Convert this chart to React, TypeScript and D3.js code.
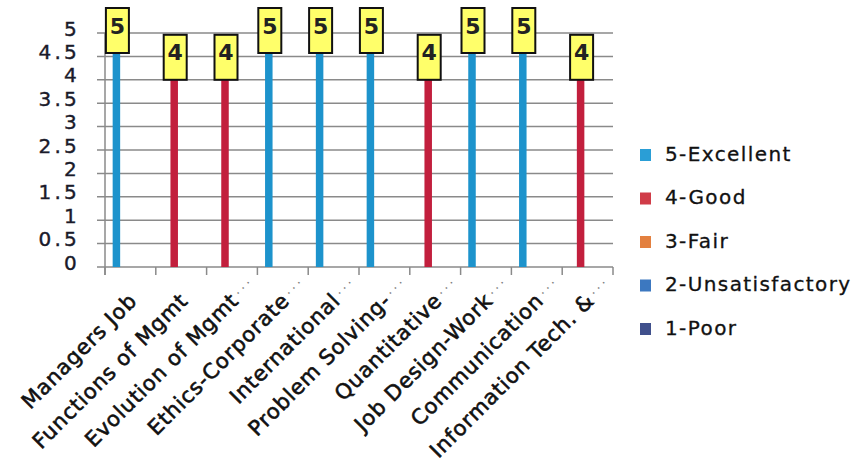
import React from "react";
import * as d3 from "d3";

const categories = [
  "Managers Job",
  "Functions of Mgmt",
  "Evolution of Mgmt",
  "Ethics-Corporate",
  "International",
  "Problem Solving-",
  "Quantitative",
  "Job Design-Work",
  "Communication",
  "Information Tech. &",
];
const truncated = [false, false, true, true, true, true, true, true, true, true];
const seriesNames = ["5-Excellent", "4-Good", "3-Fair", "2-Unsatisfactory", "1-Poor"];
const excellent = [5, 0, 0, 5, 5, 5, 0, 5, 5, 0];
const good = [0, 4, 4, 0, 0, 0, 4, 0, 0, 4];
const fair = [0, 0, 0, 0, 0, 0, 0, 0, 0, 0];
const unsatisfactory = [0, 0, 0, 0, 0, 0, 0, 0, 0, 0];
const poor = [0, 0, 0, 0, 0, 0, 0, 0, 0, 0];
const yTicks = [0, 0.5, 1, 1.5, 2, 2.5, 3, 3.5, 4, 4.5, 5];
const seriesColors = ["#1d93cc", "#c21f3d", "#e07a38", "#3a78c2", "#3b4d8c"];
const legendColors = ["#2a9ed6", "#d03c48", "#e3803f", "#3c78c0", "#40508c"];

const seriesValues = [excellent, good, fair, unsatisfactory, poor];

export default function App() {
  const W = 867, H = 469;
  const left = 105, right = 613, top = 33, bottom = 267;
  const x0 = d3.scaleBand<number>().domain(d3.range(categories.length)).range([left, right]).padding(0);
  const x1 = d3.scaleBand<number>().domain(d3.range(seriesNames.length)).range([0, x0.bandwidth()]).paddingInner(0).paddingOuter(1.13);
  const y = d3.scaleLinear().domain([0, 5]).range([bottom, top]);
  const bw = 7.5;
  const boxW = 23, boxH = 45;
  const font = "'DejaVu Sans', Verdana, sans-serif";

  const bars: any[] = [];
  const labels: any[] = [];
  seriesValues.forEach((vals, s) => {
    vals.forEach((v, i) => {
      if (v <= 0) return;
      const cx = (x0(i) as number) + (x1(s) as number) + x1.bandwidth() / 2;
      bars.push(
        <rect key={`b${s}-${i}`} x={cx - bw / 2} y={y(v)} width={bw} height={y(0) - y(v)} fill={seriesColors[s]} />
      );
      const by = Math.max(y(v) - boxH, 8);
      labels.push(
        <g key={`l${s}-${i}`}>
          <rect x={cx - boxW / 2 + 1} y={by} width={boxW} height={boxH} fill="#ffff6a" stroke="#111" strokeWidth={2} />
          <text x={cx + 1} y={by + boxH / 2 + 3} textAnchor="middle" fontFamily={font} fontWeight="bold" fontSize={22} fill="#222">{v}</text>
        </g>
      );
    });
  });

  return (
    <svg width={W} height={H} style={{ position: "absolute", left: 0, top: 0, background: "#fff" }}>
      {yTicks.map((t) => (
        <line key={`g${t}`} x1={left - 8} x2={right} y1={y(t)} y2={y(t)} stroke="#8a8a8a" strokeWidth={1.5} />
      ))}
      <line x1={left} x2={left} y1={top} y2={bottom + 8} stroke="#8a8a8a" strokeWidth={1.5} />
      {d3.range(categories.length + 1).map((i) => {
        const xx = i < categories.length ? (x0(i) as number) : right;
        return <line key={`t${i}`} x1={xx} x2={xx} y1={bottom} y2={bottom + 8} stroke="#8a8a8a" strokeWidth={1.5} />;
      })}
      {yTicks.map((t) => (
        <text key={`yl${t}`} x={80} y={y(t) - 3} textAnchor="end" dominantBaseline="middle" fontFamily={font} fontSize={20} letterSpacing={3.2} fill="#1a1a2a" stroke="#1a1a2a" strokeWidth={0.4}>{t}</text>
      ))}
      {bars}
      {labels}
      {categories.map((c, i) => {
        const cx = (x0(i) as number) + x0.bandwidth() / 2;
        return (
          <g key={`xl${i}`} transform={`translate(${cx + 8},${bottom + 35}) rotate(-45)`}>
            <text x={0} y={0} textAnchor="end" fontFamily={font} fontSize={21} letterSpacing={0.9} fill="#111" stroke="#111" strokeWidth={0.6}>{c}</text>
            {truncated[i] && (
              <text x={3} y={-7} textAnchor="start" fontFamily={font} fontSize={13} letterSpacing={3} fill="#777">...</text>
            )}
          </g>
        );
      })}
      {seriesNames.map((n, s) => (
        <g key={`lg${s}`} transform={`translate(640,${155 + s * 43.5})`}>
          <rect x={0} y={-6} width={11} height={12} fill={legendColors[s]} />
          <text x={25} y={0} dominantBaseline="middle" fontFamily={font} fontSize={20} letterSpacing={1.4} fill="#111" stroke="#111" strokeWidth={0.3}>{n}</text>
        </g>
      ))}
    </svg>
  );
}
